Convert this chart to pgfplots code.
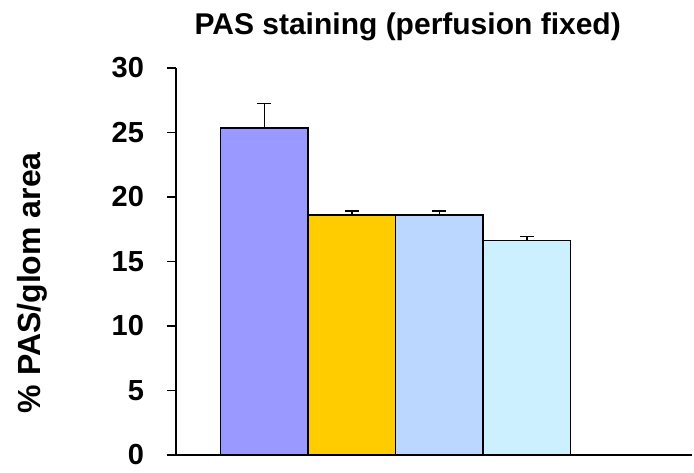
\documentclass[border=0pt]{standalone}
\usepackage{pgfplots}
\pgfplotsset{compat=1.18}
\usepackage{fontspec}
\setmainfont{Liberation Sans}
\definecolor{c1}{HTML}{9999FF}
\definecolor{c2}{HTML}{FFCC00}
\definecolor{c3}{HTML}{BBD6FF}
\definecolor{c4}{HTML}{CCF0FF}
\begin{document}
\begin{tikzpicture}
\begin{axis}[
  scale only axis,
  width=258pt, height=193.5pt,
  xmin=-1.011, xmax=4.889,
  ymin=0, ymax=30,
  ytick={0,5,...,30},
  xtick=\empty,
  axis x line=bottom, axis y line=left,
  axis line style={-, line width=0.6pt},
  tick align=outside,
  major tick length=4.5pt,
  tick style={line width=0.6pt, black},
  /pgf/number format/assume math mode=true,
  yticklabel style={font=\fontsize{14.5}{17}\selectfont\bfseries, xshift=-8pt},
  ylabel={\% PAS/glom area},
  ylabel style={font=\fontsize{16}{18}\selectfont\bfseries, at={(axis description cs:-0.278,0.445)}, anchor=center, rotate=0},
  title={PAS staining (perfusion fixed)},
  title style={font=\fontsize{15}{18}\selectfont\bfseries, at={(axis description cs:0.449,1)}, anchor=south, yshift=4pt},
  ybar, bar width=1, bar shift=0,
  clip=false,
  every axis plot/.append style={draw=black, line width=0.75pt},
  error bars/y dir=plus, error bars/y explicit,
  error bars/error bar style={line width=0.75pt, black},
  error bars/error mark options={rotate=90, mark size=3.5pt, line width=0.75pt, black},
]
\addplot[fill=c1] coordinates {(0,25.36) +- (0,1.89)};
\addplot[fill=c2] coordinates {(1,18.6) +- (0,0.3)};
\addplot[fill=c3] coordinates {(2,18.6) +- (0,0.3)};
\addplot[fill=c4] coordinates {(3,16.64) +- (0,0.31)};
\end{axis}
\pgfresetboundingbox
\path[use as bounding box] ([xshift=-88pt,yshift=-8.5pt]current axis.south west) rectangle ([xshift=1pt,yshift=34pt]current axis.north east);
\end{tikzpicture}
\end{document}
